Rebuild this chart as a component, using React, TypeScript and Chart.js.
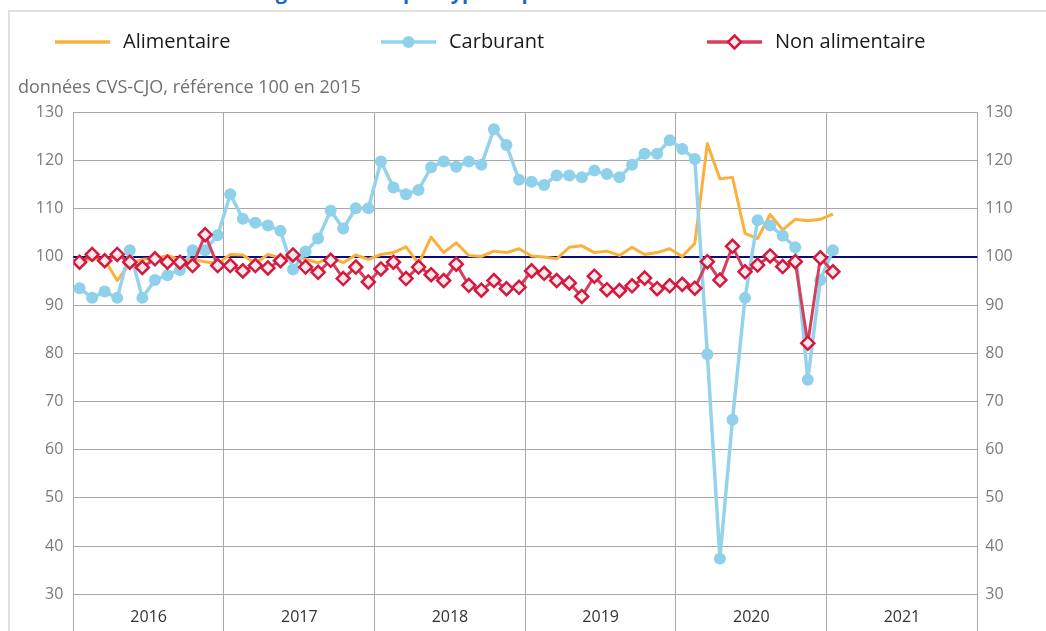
import React, { useEffect, useRef } from "react";
import { Chart, registerables } from "chart.js";

Chart.register(...registerables);

// ---- Data (monthly, Jan 2016 -> Jan 2021) ----
const years = ["2016", "2017", "2018", "2019", "2020", "2021"];
const monthsPerYear = 12;

const alimentaire = [
  99.2, 99.6, 99.4, 95.1, 98.6, 99.5, 99.6, 100.3, 99.4, 99.5, 99.0, 98.6,
  100.5, 100.4, 98.7, 100.5, 99.8, 100.0, 99.5, 98.8, 99.9, 98.8, 100.4, 99.5,
  100.5, 100.9, 102.1, 98.6, 104.1, 100.9, 102.9, 100.3, 100.1, 101.2, 100.9, 101.7,
  100.2, 100.0, 99.6, 102.0, 102.3, 100.9, 101.2, 100.3, 102.0, 100.5, 100.9, 101.7,
  100.1, 102.8, 123.5, 116.2, 116.5, 104.9, 103.8, 108.8, 105.6, 107.8, 107.5, 107.8,
  108.9,
];

const carburant = [
  93.5, 91.5, 92.8, 91.5, 101.4, 91.5, 95.2, 96.2, 97.3, 101.4, 101.4, 104.5,
  113.0, 107.9, 107.1, 106.5, 105.4, 97.4, 101.1, 103.8, 109.6, 105.9, 110.1, 110.1,
  119.8, 114.4, 113.0, 113.9, 118.6, 119.8, 118.7, 119.8, 119.1, 126.5, 123.2, 116.0,
  115.6, 114.9, 116.9, 116.9, 116.5, 117.9, 117.2, 116.5, 119.1, 121.4, 121.4, 124.2,
  122.4, 120.3, 79.8, 37.4, 66.2, 91.5, 107.6, 106.5, 104.4, 102.0, 74.5, 95.2,
  101.4,
];

const nonAlimentaire = [
  98.9, 100.5, 99.2, 100.5, 98.9, 97.8, 99.6, 98.9, 98.9, 98.2, 104.6, 98.2,
  98.2, 97.1, 98.2, 97.7, 99.2, 100.4, 97.9, 96.8, 99.3, 95.5, 97.9, 94.8,
  97.5, 98.9, 95.5, 97.9, 96.3, 95.1, 98.5, 94.1, 93.1, 95.1, 93.4, 93.7,
  97.1, 96.6, 95.1, 94.6, 91.8, 96.0, 93.2, 93.0, 94.0, 95.6, 93.4, 94.0,
  94.3, 93.5, 99.0, 95.2, 102.2, 96.9, 98.3, 100.2, 98.0, 99.0, 82.1, 99.8,
  96.9,
];

const yMin = 30;
const yMax = 130;
const yStep = 10;
const referenceValue = 100;
const unitLabel = "données CVS-CJO, référence 100 en 2015";
const titleText = "Consommation des ménages en biens par type de produit";

const FONT = "'Open Sans', 'Noto Sans', sans-serif";

const toPoints = (arr: number[]) => arr.map((v, i) => ({ x: i + 0.5, y: v }));

const refLinePlugin = {
  id: "refLine",
  beforeDatasetsDraw(chart: any) {
    const { ctx, chartArea, scales } = chart;
    const y = scales.y.getPixelForValue(referenceValue);
    ctx.save();
    ctx.strokeStyle = "#0a0a78";
    ctx.lineWidth = 2;
    ctx.beginPath();
    ctx.moveTo(chartArea.left, y);
    ctx.lineTo(chartArea.right, y);
    ctx.stroke();
    ctx.restore();
  },
};

const legendPlugin = {
  id: "customLegend",
  afterDraw(chart: any) {
    const ctx = chart.ctx;
    const starts = [55, 381, 707];
    const y = 42;
    ctx.save();
    chart.data.datasets.forEach((ds: any, k: number) => {
      const x0 = starts[k];
      ctx.strokeStyle = ds.borderColor;
      ctx.lineWidth = 3.5;
      ctx.beginPath();
      ctx.moveTo(x0, y);
      ctx.lineTo(x0 + 55, y);
      ctx.stroke();
      const cx = x0 + 27.5;
      if (ds.pointStyle === "circle" && ds.pointRadius > 0) {
        ctx.fillStyle = ds.pointBackgroundColor;
        ctx.beginPath();
        ctx.arc(cx, y, ds.pointRadius, 0, Math.PI * 2);
        ctx.fill();
      } else if (ds.pointStyle === "rectRot") {
        const r = ds.pointRadius;
        ctx.fillStyle = ds.pointBackgroundColor;
        ctx.strokeStyle = ds.pointBorderColor;
        ctx.lineWidth = ds.pointBorderWidth;
        ctx.beginPath();
        ctx.moveTo(cx, y - r);
        ctx.lineTo(cx + r, y);
        ctx.lineTo(cx, y + r);
        ctx.lineTo(cx - r, y);
        ctx.closePath();
        ctx.fill();
        ctx.stroke();
      }
      ctx.fillStyle = "#1a1a1a";
      ctx.font = `20px ${FONT}`;
      ctx.textBaseline = "middle";
      ctx.textAlign = "left";
      ctx.fillText(ds.label, x0 + 68, y);
    });
    ctx.fillStyle = "#707070";
    ctx.font = `18px ${FONT}`;
    ctx.textBaseline = "middle";
    ctx.fillText(unitLabel, 18, 88);
    ctx.restore();
  },
};

export default function App() {
  const canvasRef = useRef<HTMLCanvasElement | null>(null);

  useEffect(() => {
    if (!canvasRef.current) return;
    const chart = new Chart(canvasRef.current, {
      type: "line",
      data: {
        datasets: [
          {
            label: "Alimentaire",
            data: toPoints(alimentaire),
            borderColor: "#fbb03b",
            backgroundColor: "#fbb03b",
            borderWidth: 3,
            borderJoinStyle: "round",
            pointRadius: 0,
            pointStyle: "line",
            tension: 0,
            order: 3,
          },
          {
            label: "Carburant",
            data: toPoints(carburant),
            borderColor: "#95d3ec",
            backgroundColor: "#95d3ec",
            pointBackgroundColor: "#8fd0ea",
            pointBorderWidth: 0,
            borderWidth: 3.5,
            borderJoinStyle: "round",
            pointRadius: 6,
            pointStyle: "circle",
            tension: 0,
            order: 2,
          },
          {
            label: "Non alimentaire",
            data: toPoints(nonAlimentaire),
            borderColor: "#d4405f",
            backgroundColor: "#d4405f",
            pointBackgroundColor: "#f7eaec",
            pointBorderColor: "#d8173d",
            pointBorderWidth: 2.5,
            borderWidth: 3,
            borderJoinStyle: "round",
            pointRadius: 6.5,
            pointStyle: "rectRot",
            tension: 0,
            order: 1,
          },
        ] as any,
      },
      options: {
        animation: false,
        responsive: true,
        maintainAspectRatio: false,
        layout: { padding: { top: 112.3, left: 0, right: 0, bottom: 0 } },
        plugins: {
          legend: { display: false },
          tooltip: { enabled: false },
          title: { display: false },
        },
        scales: {
          x: {
            type: "linear",
            min: 0,
            max: years.length * monthsPerYear,
            display: false,
          },
          xYears: {
            type: "category",
            labels: years,
            position: "bottom",
            offset: true,
            grid: {
              offset: true,
              color: "#a8a8a8",
              lineWidth: 1,
              tickLength: 40,
              drawTicks: true,
            },
            border: { display: false },
            ticks: {
              color: "#333333",
              font: { family: FONT, size: 16 },
              padding: -26,
              maxRotation: 0,
              autoSkip: false,
            },
            afterFit: (s: any) => {
              s.height = 631 - 594.3;
            },
          },
          y: {
            type: "linear",
            position: "left",
            min: yMin,
            max: yMax,
            ticks: {
              stepSize: yStep,
              color: "#7a7a7a",
              font: { family: FONT, size: 16 },
              padding: 10,
            },
            grid: { color: "#a8a8a8", lineWidth: 1, drawTicks: false },
            border: { display: false },
            afterFit: (s: any) => {
              s.width = 73.3;
            },
          },
          y2: {
            type: "linear",
            position: "right",
            min: yMin,
            max: yMax,
            ticks: {
              stepSize: yStep,
              color: "#7a7a7a",
              font: { family: FONT, size: 16 },
              padding: 8,
            },
            grid: { drawOnChartArea: false, drawTicks: false },
            border: { display: false },
            afterFit: (s: any) => {
              s.width = 1046 - 977.3;
            },
          },
        },
      } as any,
      plugins: [refLinePlugin, legendPlugin],
    });
    return () => chart.destroy();
  }, []);

  return (
    <div
      style={{
        position: "absolute",
        left: 0,
        top: 0,
        width: 1046,
        height: 631,
        overflow: "hidden",
        background: "#ffffff",
      }}
    >
      <div
        style={{
          position: "absolute",
          left: 22,
          top: -18,
          whiteSpace: "nowrap",
          fontFamily: FONT,
          fontWeight: 700,
          fontSize: 20,
          lineHeight: "20px",
          color: "#1b66c9",
        }}
      >
        {titleText}
      </div>
      <div
        style={{
          position: "absolute",
          left: 8,
          top: 10,
          width: 1100,
          height: 700,
          border: "2px solid #e0e0e0",
          boxSizing: "border-box",
        }}
      />
      <div style={{ position: "absolute", left: 0, top: 0, width: 1046, height: 631 }}>
        <canvas ref={canvasRef} />
      </div>
    </div>
  );
}
